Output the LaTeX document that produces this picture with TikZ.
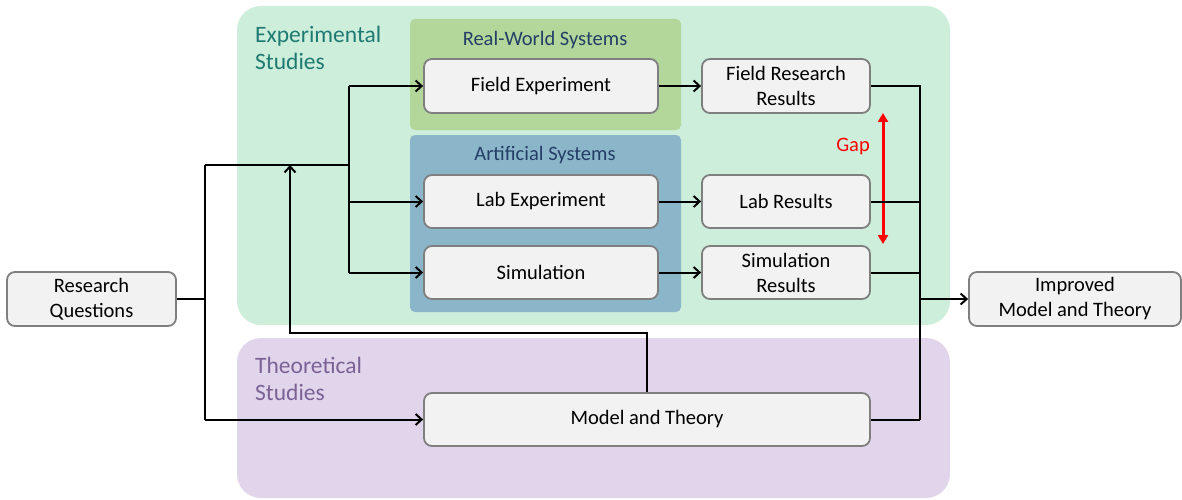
\documentclass[tikz,border=0pt]{standalone}
\usepackage{fontspec}
\setmainfont{Carlito}
\usetikzlibrary{arrows.meta,calc}
\definecolor{expgreen}{HTML}{CCEEDB}
\definecolor{theopurple}{HTML}{E1D5EB}
\definecolor{rwgreen}{HTML}{B3D69B}
\definecolor{artblue}{HTML}{8BB5C9}
\definecolor{nodefill}{HTML}{F2F2F2}
\definecolor{nodeborder}{HTML}{7F7F7F}
\definecolor{teallabel}{HTML}{1E7A72}
\definecolor{purplelabel}{HTML}{7A6296}
\definecolor{navylabel}{HTML}{243F66}
\begin{document}
\begin{tikzpicture}[x=1pt,y=-1pt,
  boxnode/.style={draw=nodeborder,fill=nodefill,line width=1.8pt,rounded corners=8pt,
    font=\fontsize{20.5}{25}\selectfont,align=center,inner sep=0pt},
  region/.style={rounded corners=24pt},
  sysbox/.style={rounded corners=5pt},
  conn/.style={line width=2pt,-{Straight Barb[length=6pt,width=11pt,line width=2pt]}},
  plain/.style={line width=2pt},
  grouplabel/.style={font=\fontsize{23.5}{27}\selectfont,align=left,anchor=north west,inner sep=0pt},
  syslabel/.style={font=\fontsize{20.5}{25}\selectfont,text=navylabel,inner sep=0pt}
]
\useasboundingbox (0,0) rectangle (1182,500);
% regions
\fill[expgreen,region] (237,6) rectangle (950,325);
\fill[theopurple,region] (237,338) rectangle (950,498);
\fill[rwgreen,sysbox] (410,19) rectangle (681,130);
\fill[artblue,sysbox] (410,135) rectangle (681,312);
\node[grouplabel,text=teallabel] (explabel) at (255,26) {Experimental\\Studies};
\node[grouplabel,text=purplelabel] (theolabel) at (255,357) {Theoretical\\Studies};
\node[syslabel] (rwlabel) at (545,40) {Real-World Systems};
\node[syslabel] (artlabel) at (545,155) {Artificial Systems};
% nodes
\node[boxnode,minimum width=234pt,minimum height=54pt] (field) at (541,86) {Field Experiment};
\node[boxnode,minimum width=234pt,minimum height=53pt] (lab) at (541,201.5) {Lab Experiment};
\node[boxnode,minimum width=234pt,minimum height=53pt] (sim) at (541,272.5) {Simulation};
\node[boxnode,minimum width=168pt,minimum height=54pt] (fieldres) at (786,86) {Field Research\\Results};
\node[boxnode,minimum width=168pt,minimum height=53pt] (labres) at (786,201.5) {Lab Results};
\node[boxnode,minimum width=168pt,minimum height=53pt] (simres) at (786,272.5) {Simulation\\Results};
\node[boxnode,minimum width=169pt,minimum height=54pt] (rq) at (91.5,299) {Research\\Questions};
\node[boxnode,minimum width=212pt,minimum height=54pt] (imp) at (1075,299) {Improved\\Model and Theory};
\node[boxnode,minimum width=446pt,minimum height=53pt] (mt) at (647,419.5) {Model and Theory};
% gap
\node[text=red,font=\fontsize{20.5}{25}\selectfont,inner sep=0pt] (gaplabel) at (853,146) {Gap};
\coordinate (gaptop) at (883,113);
\coordinate (gapbot) at (883,244);
\draw[red,line width=3pt,{Triangle[length=9pt,width=10pt]}-{Triangle[length=9pt,width=10pt]}] (gaptop) -- (gapbot);
% coordinates
\coordinate (split) at (205,299);
\coordinate (topleft) at (205,165);
\coordinate (branch) at (349,165);
\coordinate (collect) at (920,299);
\coordinate (fb) at (290,165);
% left connectors
\draw[plain] (rq.east) -- (split);
\draw[plain] (topleft) -- (205,420) ;
\draw[conn] (205,419.5) -- (mt.west);
\draw[plain] (topleft) -- (branch);
\draw[plain] (349,86) -- (349,272.5);
\draw[conn] (349,86) -- (field.west);
\draw[conn] (349,201.5) -- (lab.west);
\draw[conn] (349,272.5) -- (sim.west);
% feedback
\draw[conn] (mt.north) |- (290,333) -- (fb);
% middle
\draw[conn] (field) -- (fieldres);
\draw[conn] (lab) -- (labres);
\draw[conn] (sim) -- (simres);
% right collector
\draw[plain] (fieldres.east) -| (920,419.5);
\draw[plain] (labres.east) -- (920,201.5);
\draw[plain] (simres.east) -- (920,272.5);
\draw[plain] (mt.east) -- (920,419.5);
\draw[conn] (collect) -- (imp.west);
\end{tikzpicture}
\end{document}
